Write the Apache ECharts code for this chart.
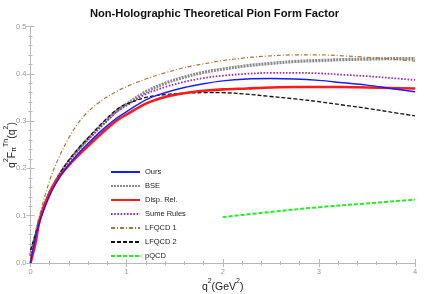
<!DOCTYPE html>
<html>
<head>
<meta charset="utf-8">
<script src="https://cdn.jsdelivr.net/npm/echarts@6/dist/echarts.min.js"></script>
<style>html,body{margin:0;padding:0;background:#fff}#c{width:429px;height:294px}</style>
</head>
<body>
<div id="c"></div>
<script>
var qGrid = [0, 0.05, 0.1, 0.2, 0.3, 0.4, 0.5, 0.6, 0.75, 0.9, 1.0, 1.2, 1.4, 1.6, 1.8, 2.0, 2.25, 2.5, 2.75, 3.0, 3.25, 3.5, 3.75, 4.0];
var ours   = [0.000, 0.052, 0.090, 0.143, 0.180, 0.208, 0.232, 0.253, 0.282, 0.307, 0.320, 0.345, 0.360, 0.371, 0.379, 0.385, 0.389, 0.390, 0.389, 0.386, 0.381, 0.376, 0.369, 0.362];
var bse    = [0.015, 0.055, 0.095, 0.148, 0.186, 0.215, 0.240, 0.262, 0.293, 0.322, 0.336, 0.362, 0.380, 0.393, 0.403, 0.410, 0.417, 0.422, 0.426, 0.428, 0.430, 0.431, 0.432, 0.432];
var disp   = [0.000, 0.040, 0.095, 0.150, 0.183, 0.207, 0.228, 0.248, 0.276, 0.302, 0.314, 0.337, 0.351, 0.359, 0.364, 0.367, 0.369, 0.371, 0.372, 0.372, 0.372, 0.371, 0.370, 0.369];
var sume   = [0.015, 0.055, 0.095, 0.148, 0.187, 0.216, 0.240, 0.262, 0.292, 0.320, 0.333, 0.357, 0.372, 0.383, 0.391, 0.396, 0.400, 0.402, 0.402, 0.401, 0.398, 0.395, 0.391, 0.387];
var lfqcd1 = [0.010, 0.062, 0.105, 0.175, 0.225, 0.265, 0.297, 0.320, 0.345, 0.363, 0.373, 0.389, 0.402, 0.413, 0.421, 0.428, 0.434, 0.438, 0.440, 0.440, 0.438, 0.435, 0.431, 0.427];
var lfqcd2 = [0.027, 0.060, 0.095, 0.148, 0.187, 0.218, 0.243, 0.265, 0.297, 0.325, 0.336, 0.350, 0.356, 0.359, 0.360, 0.360, 0.357, 0.352, 0.347, 0.341, 0.334, 0.327, 0.319, 0.311];
var pqcdQ  = [2.0, 2.5, 3.0, 3.5, 4.0];
var pqcd   = [0.097, 0.108, 0.118, 0.126, 0.134];
var names = ['Ours', 'BSE', 'Disp. Rel.', 'Sume Rules', 'LFQCD 1', 'LFQCD 2', 'pQCD'];
var xTicks = [0, 1, 2, 3, 4];
var yTicks = [0, 0.1, 0.2, 0.3, 0.4, 0.5];

function pairs(xs, ys) { return xs.map(function (x, i) { return [x, ys[i]]; }); }

var FONT = 'Liberation Sans';
var frameColor = '#b8b8b8';
var chart = echarts.init(document.getElementById('c'), null, {renderer: 'canvas'});

function mkX(pos, labels) {
  return {
    type: 'value', position: pos, min: 0, max: 4, interval: 1,
    axisLine: {show: true, lineStyle: {color: frameColor, width: 1}},
    axisTick: {show: true, inside: true, length: 4, lineStyle: {color: frameColor}},
    minorTick: {show: true, splitNumber: 5, length: 2, lineStyle: {color: frameColor}},
    splitLine: {show: false},
    axisLabel: {show: labels, color: '#999', fontSize: 7.5, fontFamily: FONT, margin: 5,
      formatter: function (v) { return xTicks.indexOf(v) >= 0 ? String(v) : ''; }}
  };
}
function mkY(pos, labels) {
  return {
    type: 'value', position: pos, min: 0, max: 0.5, interval: 0.1,
    axisLine: {show: true, lineStyle: {color: frameColor, width: 1}},
    axisTick: {show: true, inside: true, length: 4, lineStyle: {color: frameColor}},
    minorTick: {show: true, splitNumber: 5, length: 2, lineStyle: {color: frameColor}},
    splitLine: {show: false},
    axisLabel: {show: labels, color: '#999', fontSize: 7.5, fontFamily: FONT, margin: 4,
      formatter: function (v) { return v.toFixed(1); }}
  };
}

function line(name, xs, ys, color, width, type, z) {
  return {
    name: name, type: 'line', data: pairs(xs, ys), smooth: 0.35,
    showSymbol: false, symbol: 'none', z: z,
    lineStyle: {color: color, width: width, type: type, cap: 'butt'},
    itemStyle: {color: color},
    emphasis: {disabled: true}
  };
}

var richTitle = {
  n: {fontSize: 10.5, fontFamily: FONT, fill: '#222', color: '#222', verticalAlign: 'bottom', lineHeight: 15},
  s: {fontSize: 7, fontFamily: FONT, fill: '#222', color: '#222', verticalAlign: 'top', lineHeight: 15},
  b: {fontSize: 7, fontFamily: FONT, fill: '#222', color: '#222', verticalAlign: 'bottom', lineHeight: 13}
};

chart.setOption({
  animation: false,
  backgroundColor: '#fff',
  title: {
    text: 'Non-Holographic Theoretical Pion Form Factor',
    left: 'center', top: 3,
    textStyle: {fontSize: 11.2, fontWeight: 'bold', fontFamily: FONT, color: '#111'}
  },
  grid: {left: 30.5, right: 14, top: 26.5, bottom: 31, containLabel: false, outerBoundsMode: 'none'},
  xAxis: [mkX('bottom', true), mkX('top', false)],
  yAxis: [mkY('left', true), mkY('right', false)],
  graphic: [
    {
      type: 'text', x: 222.7, y: 285, z: 10,
      style: {
        text: '{n|q}{s|2}{n|(GeV}{s|2}{n|)}',
        rich: richTitle, align: 'center', verticalAlign: 'middle'
      }
    },
    {
      type: 'text', x: 10, y: 145, rotation: Math.PI / 2, z: 10,
      style: {
        text: '{n|q}{s|2}{n|F}{b|π}{s|Th}{n|(q}{s|2}{n|)}',
        rich: richTitle, align: 'center', verticalAlign: 'middle'
      }
    }
  ],
  legend: {
    show: true,
    orient: 'vertical', left: 105, top: 163,
    itemWidth: 29, itemHeight: 8, itemGap: 6,
    data: names,
    itemStyle: {opacity: 0},
    textStyle: {fontSize: 7.5, fontFamily: FONT, color: '#222'},
    selectedMode: false
  },
  series: [
    line('BSE', qGrid, bse, '#8a8a8a', 3.2, [2, 1], 2),
    line('LFQCD 1', qGrid, lfqcd1, '#a8763e', 1.2, [4, 2, 1, 2], 3),
    line('Sume Rules', qGrid, sume, '#9b30a0', 1.8, [1.6, 1.6], 3),
    line('LFQCD 2', qGrid, lfqcd2, '#111', 1.3, [4, 2], 4),
    line('Disp. Rel.', qGrid, disp, '#ff1a1a', 2.6, 'solid', 5),
    line('Ours', qGrid, ours, '#1a1aff', 1.4, 'solid', 6),
    line('pQCD', pqcdQ, pqcd, '#22ee22', 2, [4, 2], 6)
  ]
});
</script>
</body>
</html>
